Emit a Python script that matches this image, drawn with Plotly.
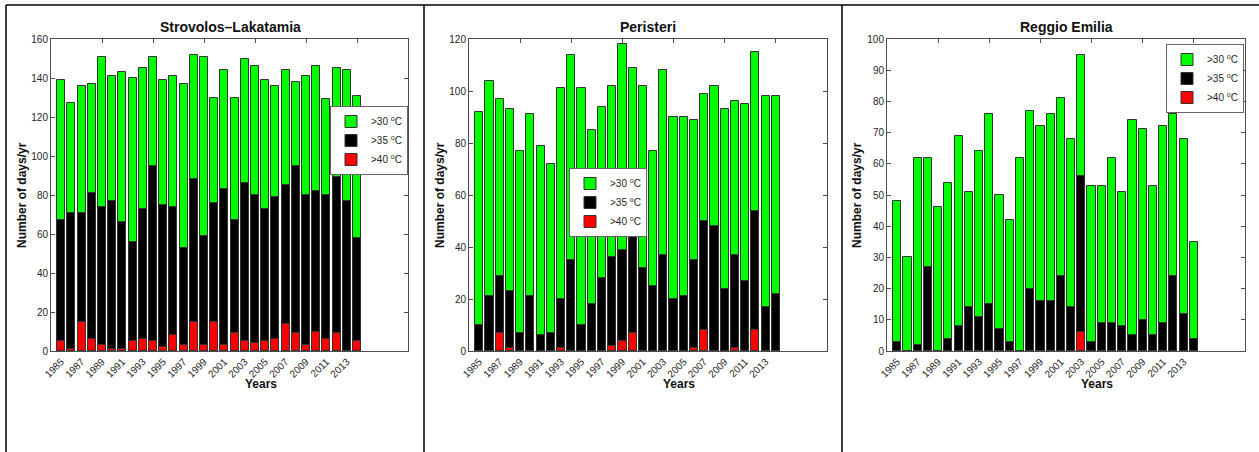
import plotly.graph_objects as go

years = list(range(1985, 2015))
tick_years = list(range(1985, 2014, 2))
top_tick_years = [1989, 1994, 1999, 2004, 2009, 2014]

titles = ["Strovolos–Lakatamia", "Peristeri", "Reggio Emilia"]
series_names = [">30 <sup>o</sup>C", ">35 <sup>o</sup>C", ">40 <sup>o</sup>C"]
series_colors = ["#00FF00", "#000000", "#FF0000"]

strovolos_30 = [139, 127, 136, 137, 151, 141, 143, 140, 145, 151, 139, 141, 137, 152, 151,
                130, 144, 130, 150, 146, 139, 136, 144, 138, 141, 146, 129, 145, 144, 131]
strovolos_35 = [67, 71, 71, 81, 74, 77, 66, 56, 73, 95, 75, 74, 53, 88, 59,
                76, 83, 67, 86, 80, 73, 79, 85, 95, 80, 82, 80, 89, 77, 58]
strovolos_40 = [5, 1, 15, 6, 3, 1, 1, 5, 6, 5, 2, 8, 3, 15, 3,
                15, 3, 9, 5, 4, 5, 6, 14, 9, 3, 10, 6, 9, 0, 5]

peristeri_30 = [92, 104, 97, 93, 77, 91, 79, 72, 101, 114, 101, 85, 94, 102, 118,
                109, 102, 77, 108, 90, 90, 89, 99, 102, 93, 96, 95, 115, 98, 98]
peristeri_35 = [10, 21, 29, 23, 7, 21, 6, 7, 20, 35, 10, 18, 28, 36, 39,
                45, 32, 25, 37, 20, 21, 35, 50, 48, 24, 37, 27, 54, 17, 22]
peristeri_40 = [0, 0, 7, 1, 0, 0, 0, 0, 1, 0, 0, 0, 0, 2, 4,
                7, 0, 0, 0, 0, 0, 1, 8, 0, 0, 1, 0, 8, 0, 0]

reggio_30 = [48, 30, 62, 62, 46, 54, 69, 51, 64, 76, 50, 42, 62, 77, 72,
             76, 81, 68, 95, 53, 53, 62, 51, 74, 71, 53, 72, 76, 68, 35]
reggio_35 = [3, 0, 2, 27, 0, 4, 8, 14, 11, 15, 7, 3, 0, 20, 16,
             16, 24, 14, 56, 3, 9, 9, 8, 5, 10, 5, 9, 24, 12, 4]
reggio_40 = [0, 0, 0, 0, 0, 0, 0, 0, 0, 0, 0, 0, 0, 0, 0,
             0, 0, 0, 6, 0, 0, 0, 0, 0, 0, 0, 0, 0, 0, 0]

y_max = [160, 120, 100]
y_dtick = [20, 20, 10]

data = [
    (strovolos_30, strovolos_35, strovolos_40),
    (peristeri_30, peristeri_35, peristeri_40),
    (reggio_30, reggio_35, reggio_40),
]

W, H = 1259, 452
x_px = [(51, 408), (469, 827), (887, 1245)]
y_top_px, y_bot_px = 39, 351
legend_px = [(330, 106), (569, 168), (1166, 44)]
xlabel_px = [261, 679, 1097]
ylabel_px = [22, 440, 857]
title_px = [230, 648, 1066]

FONT = "Liberation Sans, Arial, Helvetica, sans-serif"
AXIS_COLOR = "#4d4d4d"
TEXT_COLOR = "#262626"

fig = go.Figure()
legend_ids = ["legend", "legend2", "legend3"]
layout = {}

for i in range(3):
    xa = "x" if i == 0 else f"x{i + 1}"
    ya = "y" if i == 0 else f"y{i + 1}"
    xo = f"x{i + 4}"
    yo = f"y{i + 4}"
    for k in range(3):
        fig.add_trace(go.Bar(
            x=years, y=data[i][k], name=series_names[k],
            marker=dict(color=series_colors[k], line=dict(color="#333333", width=1)),
            width=0.8, xaxis=xa, yaxis=ya, legend=legend_ids[i],
            hoverinfo="x+y",
        ))
    # invisible trace carrying the mirrored (top / right) tick axes
    fig.add_trace(go.Scatter(x=[years[0]], y=[0], xaxis=xo, yaxis=yo,
                             mode="markers", marker=dict(opacity=0),
                             showlegend=False, hoverinfo="skip"))

    dom = [x_px[i][0] / W, x_px[i][1] / W]
    ydom = [1 - y_bot_px / H, 1 - y_top_px / H]
    xkey = "xaxis" if i == 0 else f"xaxis{i + 1}"
    ykey = "yaxis" if i == 0 else f"yaxis{i + 1}"
    layout[xkey] = dict(
        domain=dom, anchor=ya, range=[1984, 2019], automargin=False,
        tickvals=tick_years, ticktext=[str(t) for t in tick_years],
        tickangle=-45, ticks="", showgrid=False, zeroline=False,
        showline=True, linecolor=AXIS_COLOR, linewidth=1, mirror=True,
        tickfont=dict(family=FONT, size=10, color=TEXT_COLOR),
    )
    layout[ykey] = dict(
        domain=ydom, anchor=xa, range=[0, y_max[i]], dtick=y_dtick[i], tick0=0,
        automargin=False,
        ticks="inside", ticklen=4, tickcolor=AXIS_COLOR,
        showgrid=False, zeroline=False,
        showline=True, linecolor=AXIS_COLOR, linewidth=1, mirror=True,
        tickfont=dict(family=FONT, size=10, color=TEXT_COLOR),
    )
    layout[f"xaxis{i + 4}"] = dict(
        domain=dom, anchor=yo, overlaying=xa, side="top", range=[1984, 2019],
        automargin=False,
        tickvals=top_tick_years, ticks="inside", ticklen=4, tickcolor=AXIS_COLOR,
        showticklabels=False, showgrid=False, zeroline=False, showline=False,
    )
    layout[f"yaxis{i + 4}"] = dict(
        domain=ydom, anchor=xo, overlaying=ya, side="right", range=[0, y_max[i]],
        automargin=False,
        dtick=y_dtick[i], tick0=0, ticks="inside", ticklen=4, tickcolor=AXIS_COLOR,
        showticklabels=False, showgrid=False, zeroline=False, showline=False,
    )
    layout[legend_ids[i]] = dict(
        x=legend_px[i][0] / W, y=1 - legend_px[i][1] / H,
        xanchor="left", yanchor="top",
        bgcolor="white", bordercolor="#666666", borderwidth=1,
        font=dict(family=FONT, size=10, color=TEXT_COLOR),
        tracegroupgap=0, itemwidth=30,
    )

annotations = []
for i in range(3):
    annotations.append(dict(
        text=f"<b>{titles[i]}</b>", x=title_px[i] / W, y=1 - 27 / H,
        xref="paper", yref="paper", showarrow=False, xanchor="center", yanchor="middle",
        font=dict(family=FONT, size=14, color="#111111"),
    ))
    annotations.append(dict(
        text="<b>Years</b>", x=xlabel_px[i] / W, y=1 - 384 / H,
        xref="paper", yref="paper", showarrow=False, xanchor="center", yanchor="middle",
        font=dict(family=FONT, size=12, color="#111111"),
    ))
    annotations.append(dict(
        text="<b>Number of days/yr</b>", x=ylabel_px[i] / W, y=1 - 195 / H,
        xref="paper", yref="paper", showarrow=False, xanchor="center", yanchor="middle",
        textangle=-90, font=dict(family=FONT, size=12, color="#111111"),
    ))

shapes = [
    dict(type="line", xref="paper", yref="paper", x0=6 / W, x1=1, y0=1 - 5 / H, y1=1 - 5 / H,
         line=dict(color="black", width=1.5)),
]
for xp in [6, 424, 842]:
    shapes.append(dict(type="line", xref="paper", yref="paper", x0=xp / W, x1=xp / W,
                       y0=0, y1=1 - 5 / H, line=dict(color="black", width=1.5)))

fig.update_layout(
    width=W, height=H, margin=dict(l=0, r=0, t=0, b=0, pad=0, autoexpand=False),
    paper_bgcolor="white", plot_bgcolor="white",
    barmode="overlay", bargap=0,
    annotations=annotations, shapes=shapes,
    **layout,
)

fig.write_html(
    "out.html",
    config={"displayModeBar": False},
    post_script="document.body.style.margin='0px';document.body.style.overflow='hidden';",
)
